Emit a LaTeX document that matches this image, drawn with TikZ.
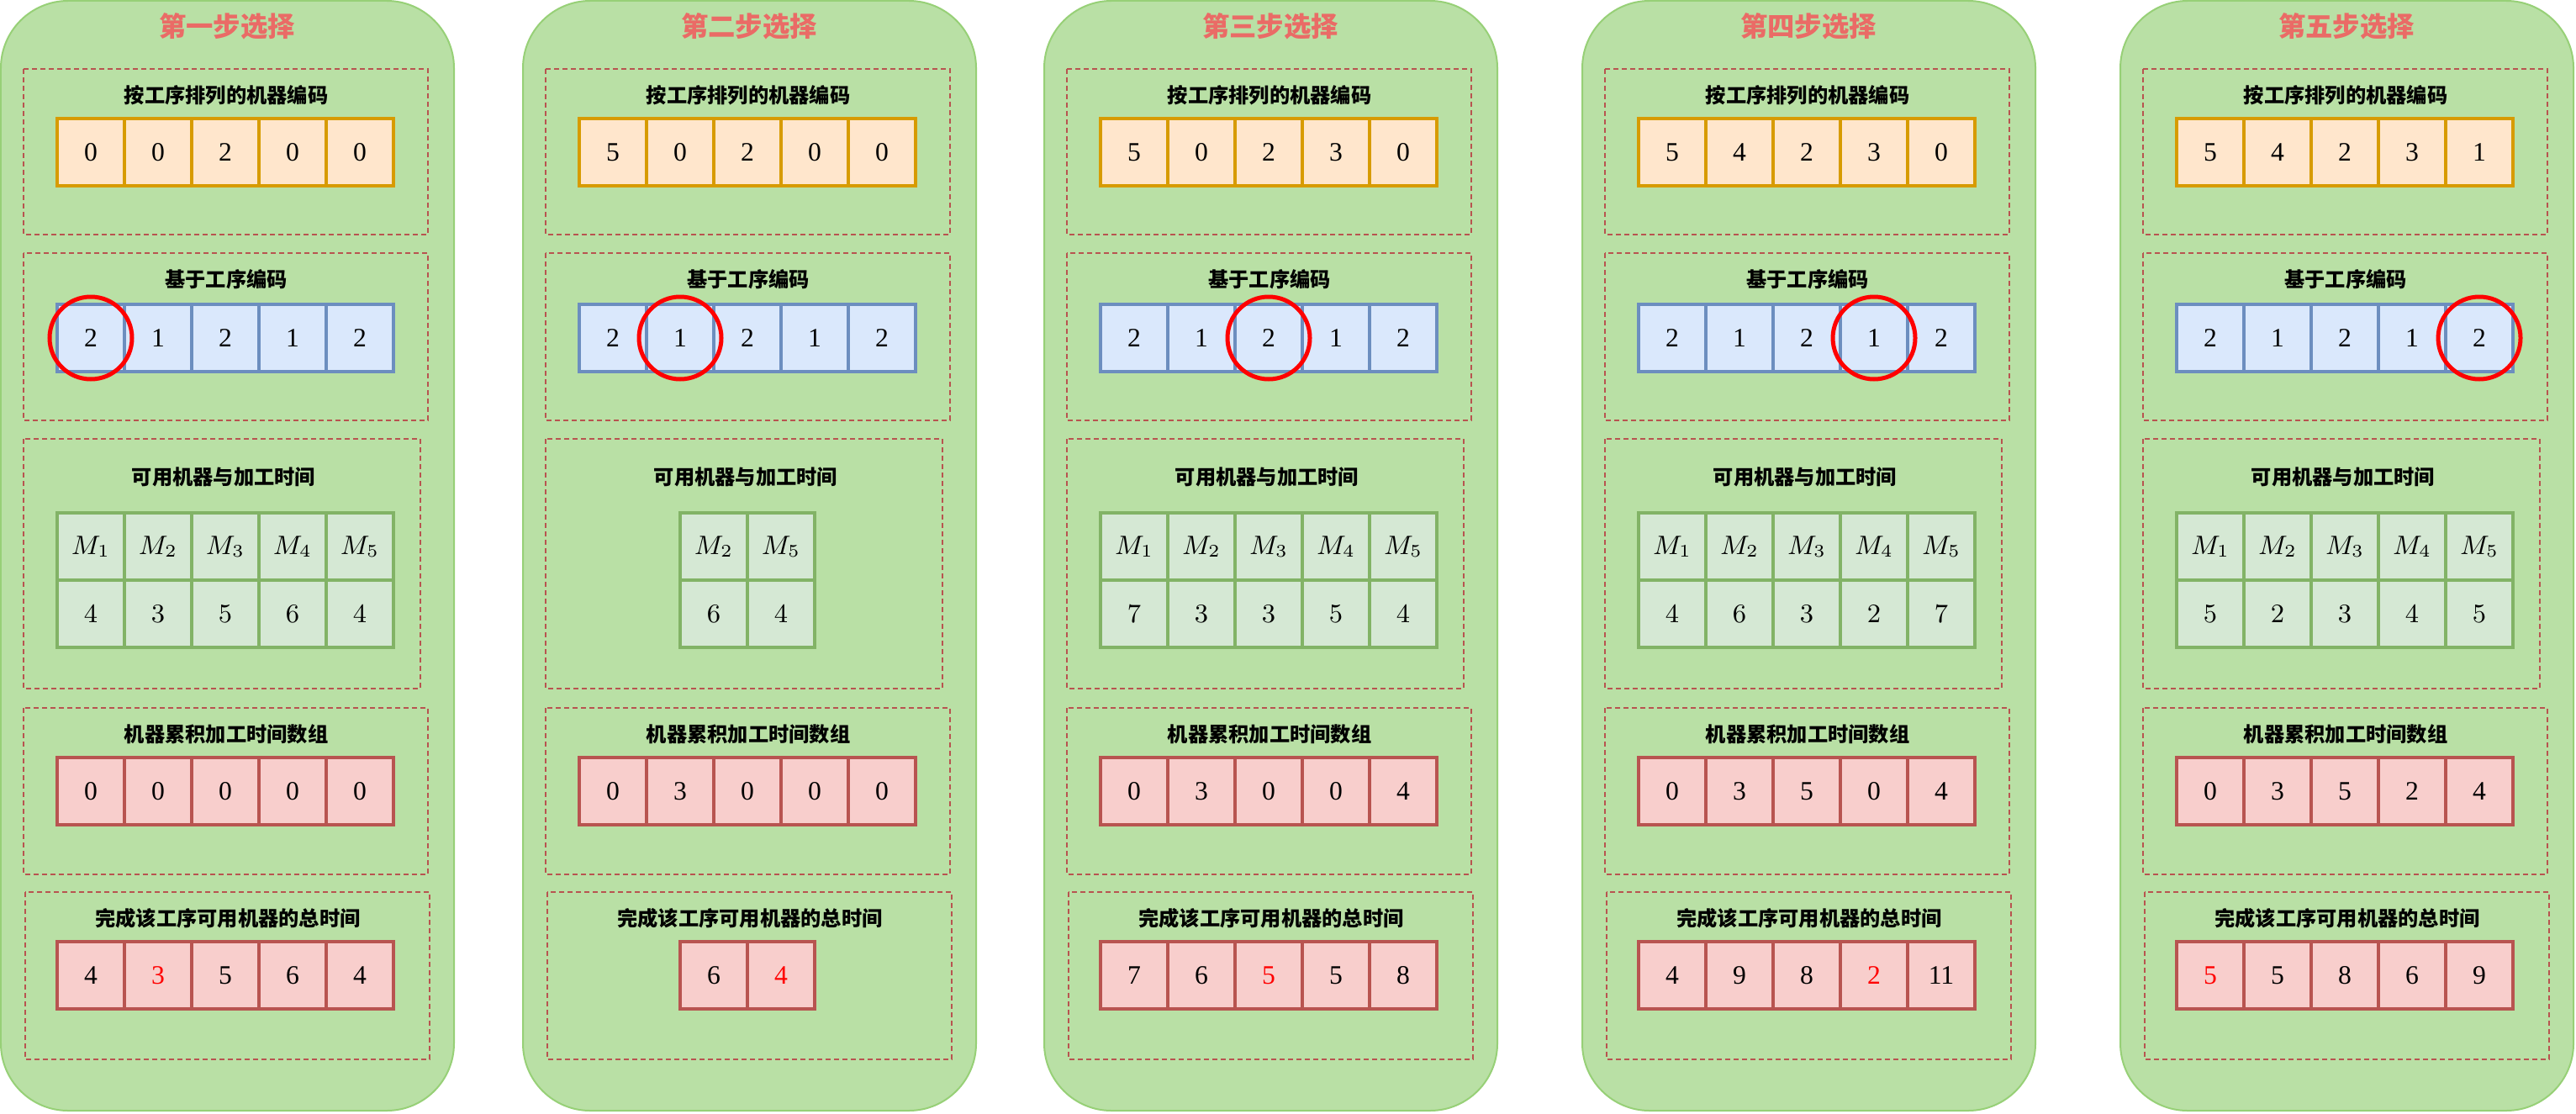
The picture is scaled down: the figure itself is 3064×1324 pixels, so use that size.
\documentclass[tikz,border=0pt]{standalone}
\usepackage{fontspec}
\setmainfont{Liberation Serif}
\newfontfamily\cjk{Noto Sans CJK SC}
\usetikzlibrary{positioning}
\definecolor{stepfill}{HTML}{B9E0A5}
\definecolor{stepdraw}{HTML}{97D077}
\definecolor{grpdraw}{HTML}{B85450}
\definecolor{titlered}{HTML}{EA6B66}
\definecolor{ordfill}{HTML}{FFE6CC}
\definecolor{orddraw}{HTML}{D79B00}
\definecolor{jobfill}{HTML}{DAE8FC}
\definecolor{jobdraw}{HTML}{6C8EBF}
\definecolor{macfill}{HTML}{D5E8D4}
\definecolor{macdraw}{HTML}{82B366}
\definecolor{cumfill}{HTML}{F8CECC}
\definecolor{cumdraw}{HTML}{B85450}

\begin{document}
\begin{tikzpicture}[x=0.1mm, y=-0.1mm]
\tikzstyle{stepcol}=[rounded corners=8mm, fill=stepfill, draw=stepdraw, line width=0.2mm]
\tikzstyle{grp}=[draw=grpdraw, line width=0.2mm, dash pattern=on 0.6mm off 0.4mm]
\tikzstyle{steptitle}=[font=\cjk\bfseries\fontsize{9.2}{11}\selectfont, text=titlered]
\tikzstyle{grptitle}=[font=\cjk\bfseries\fontsize{6.9}{8}\selectfont]
\tikzstyle{cell}=[rectangle, minimum size=8mm, inner sep=0pt, outer sep=0pt, line width=0.4mm, font=\fontsize{9}{10}\selectfont]
\tikzstyle{ordcell}=[cell, fill=ordfill, draw=orddraw]
\tikzstyle{jobcell}=[cell, fill=jobfill, draw=jobdraw]
\tikzstyle{maccell}=[cell, fill=macfill, draw=macdraw]
\tikzstyle{cumcell}=[cell, fill=cumfill, draw=cumdraw]
\tikzstyle{ring}=[circle, minimum size=9.8mm, draw=red, line width=0.5mm]
  \useasboundingbox (0,0) rectangle (3064,1324);
  \foreach \X/\nr/\ord/\k/\n/\mac/\tim/\cum/\tot/\r [count=\c] in {
      0/一/{0,0,2,0,0}/1/5/{1,2,3,4,5}/{4,3,5,6,4}/{0,0,0,0,0}/{4,3,5,6,4}/2,
      621/二/{5,0,2,0,0}/2/2/{2,5}/{6,4}/{0,3,0,0,0}/{6,4}/2,
      1241/三/{5,0,2,3,0}/3/5/{1,2,3,4,5}/{7,3,3,5,4}/{0,3,0,0,4}/{7,6,5,5,8}/3,
      1881/四/{5,4,2,3,0}/4/5/{1,2,3,4,5}/{4,6,3,2,7}/{0,3,5,0,4}/{4,9,8,2,11}/4,
      2521/五/{5,4,2,3,1}/5/5/{1,2,3,4,5}/{5,2,3,4,5}/{0,3,5,2,4}/{5,5,8,6,9}/1}{
  \begin{scope}[shift={(\X,0)}]
    \draw[stepcol] (1,1) rectangle (540,1321);
    \node[steptitle] (title\c) at (270,31) {第\nr 步选择};
    \draw[grp] (28,82) rectangle (509,279);
    \draw[grp] (28,301) rectangle (509,500);
    \draw[grp] (28,522) rectangle (500,819);
    \draw[grp] (28,842) rectangle (509,1040);
    \draw[grp] (30,1061) rectangle (511,1260);
    \node[grptitle] (ordlab\c) at (269,113) {按工序排列的机器编码};
    \node[grptitle] (joblab\c) at (269,332) {基于工序编码};
    \node[grptitle] (maclab\c) at (266,567) {可用机器与加工时间};
    \node[grptitle] (cumlab\c) at (269,873) {机器累积加工时间数组};
    \node[grptitle] (totlab\c) at (271,1092) {完成该工序可用机器的总时间};
    \foreach \v [count=\i] in \ord
      \node[ordcell] (o\c-\i) at (28+80*\i,181) {\v};
    \foreach \v [count=\i] in {2,1,2,1,2}
      \node[jobcell] (j\c-\i) at (28+80*\i,402) {\v};
    \node[ring] (ring\c) at (j\c-\k) {};
    \foreach \m [count=\i] in \mac
      \node[maccell] (m\c-\i) at (228+80*\i-40*\n,650) {$M_{\m}$};
    \foreach \t [count=\i] in \tim
      \node[maccell] (t\c-\i) at (228+80*\i-40*\n,730) {$\t$};
    \foreach \v [count=\i] in \cum
      \node[cumcell] (a\c-\i) at (28+80*\i,941) {\v};
    \foreach \v [count=\i] in \tot
      \node[cumcell] (s\c-\i) at (228+80*\i-40*\n,1160) {\ifnum\i=\r\color{red}\fi\v};
  \end{scope}
  }
\end{tikzpicture}
\end{document}
